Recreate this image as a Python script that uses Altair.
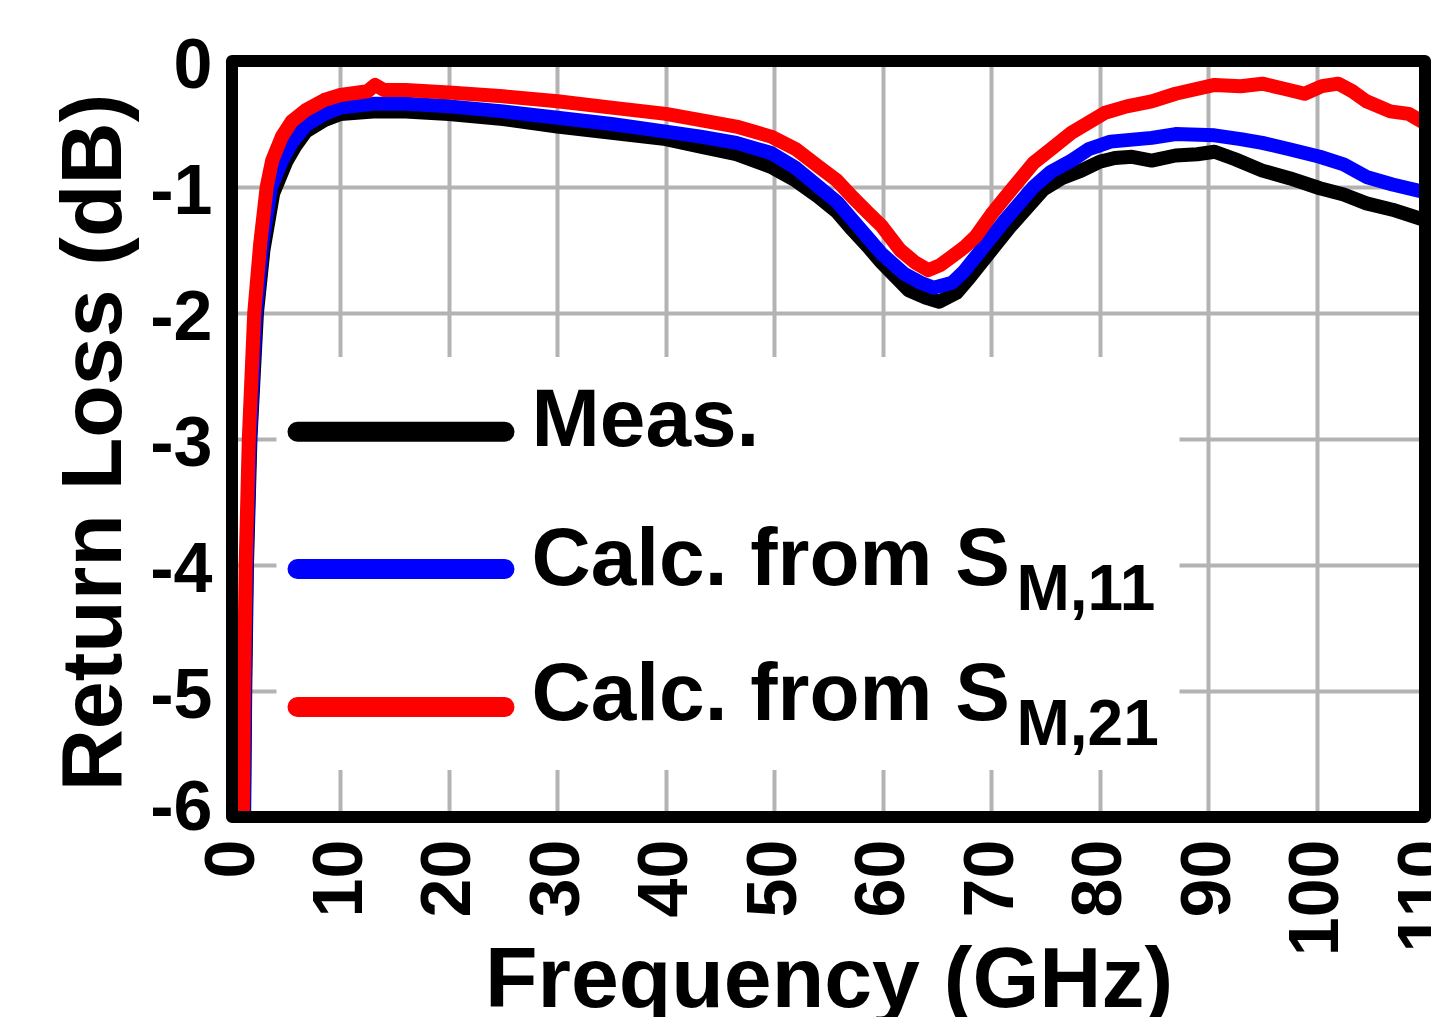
import altair as alt
import pandas as pd

# ---- data ----
meas_f = [1.0, 1.12, 1.22, 1.38, 1.7, 2.3, 2.9, 3.8, 5.0, 5.8, 6.8, 8.5, 10, 13, 16, 20, 25, 30, 35, 40,
          43.2, 46.5, 49.7, 52, 54.1, 55.8, 57.2, 58.6, 59.9, 62.4, 64, 65.2, 66.8, 68, 69.1, 70.5, 71.7,
          74.8, 76.5, 78.3, 80, 81.4, 83, 84.8, 87, 89, 90.6, 92.5, 95, 97.5, 100.3, 102.5, 104.6, 107, 109.9]
meas_db = [-7.0, -6.0, -5.0, -4.0, -3.0, -2.0, -1.5, -1.05, -0.8, -0.68, -0.56, -0.47, -0.42, -0.40, -0.40,
           -0.42, -0.46, -0.52, -0.57, -0.62, -0.68, -0.74, -0.84, -0.95, -1.08, -1.20, -1.34, -1.47, -1.60,
           -1.82, -1.88, -1.91, -1.84, -1.72, -1.60, -1.45, -1.32, -1.02, -0.93, -0.87, -0.80, -0.77, -0.76,
           -0.79, -0.75, -0.74, -0.72, -0.78, -0.87, -0.93, -1.01, -1.06, -1.13, -1.18, -1.26]

s11_f = [1.0, 1.09, 1.18, 1.34, 1.65, 2.2, 2.8, 3.6, 4.6, 5.5, 6.8, 8.5, 10, 13, 16, 20, 25, 30, 35, 40,
         43.2, 46.5, 49.7, 52, 54.1, 55.8, 57.2, 58.6, 59.9, 62, 63.5, 64.7, 66.4, 67.5, 68.6, 70, 71.3,
         73.9, 75.5, 77.4, 79, 81, 84.8, 87, 90.6, 93, 95, 97.5, 100.3, 102.5, 104.6, 107, 109.9]
s11_db = [-7.0, -6.0, -5.0, -4.0, -3.0, -2.0, -1.45, -1.0, -0.79, -0.65, -0.51, -0.42, -0.37, -0.34, -0.34,
          -0.36, -0.40, -0.45, -0.50, -0.56, -0.60, -0.65, -0.73, -0.85, -1.00, -1.12, -1.26, -1.40, -1.53,
          -1.69, -1.76, -1.80, -1.76, -1.67, -1.55, -1.40, -1.26, -1.00, -0.88, -0.79, -0.70, -0.64, -0.61,
          -0.58, -0.59, -0.62, -0.65, -0.70, -0.76, -0.82, -0.92, -0.98, -1.04]

s21_f = [0.9, 1.0, 1.1, 1.26, 1.55, 2.05, 2.6, 3.2, 3.7, 4.6, 5.5, 6.8, 8.5, 10, 12.5, 13.2, 14, 16, 20, 25,
         30, 35, 40, 43.2, 46.5, 49.7, 52, 54.1, 55.8, 57.2, 58.6, 59.9, 61.6, 63, 64.2, 65.3, 66.4, 67.5,
         68.6, 70, 71.3, 73.9, 75.5, 77.4, 80.5, 82.5, 84.8, 87, 90.6, 93, 95, 97, 98.9, 100.5, 102, 103.3,
         104.6, 106.8, 108.5, 109.9]
s21_db = [-7.0, -6.0, -5.0, -4.0, -3.0, -2.0, -1.45, -1.0, -0.79, -0.6, -0.48, -0.39, -0.31, -0.27, -0.24,
          -0.19, -0.23, -0.23, -0.25, -0.28, -0.32, -0.37, -0.42, -0.47, -0.52, -0.60, -0.70, -0.84, -0.95,
          -1.08, -1.20, -1.31, -1.50, -1.60, -1.66, -1.62, -1.55, -1.48, -1.39, -1.22, -1.08, -0.81, -0.70,
          -0.57, -0.41, -0.36, -0.32, -0.26, -0.19, -0.20, -0.18, -0.22, -0.26, -0.20, -0.18, -0.24, -0.32,
          -0.40, -0.42, -0.49]

series_names = ["Meas.", "Calc. from S", "Calc. from S"]
series_subs = ["", "M,11", "M,21"]
series_colors = ["#000000", "#0000ff", "#ff0000"]

x_ticks = list(range(0, 111, 10))
y_ticks = list(range(-6, 1))

FONT = "Liberation Sans"
W, H = 1193, 756

xs = alt.Scale(domain=[0, 110], nice=False, zero=False)
ys = alt.Scale(domain=[-6, 0], nice=False, zero=False)

x_axis = alt.Axis(values=x_ticks, title="Frequency (GHz)", labelAngle=270, labelFontSize=70,
                  labelFont=FONT, labelFontWeight="bold", labelColor="black", labelPadding=22,
                  labelFlush=False, labelOverlap=False,
                  ticks=False, domain=False, grid=True, gridColor="#b3b3b3", gridWidth=4,
                  titleFont=FONT, titleFontSize=86, titleFontWeight="bold", titleColor="black",
                  titleBaseline="alphabetic", titleX=W / 2, titleY=189, titleAlign="center")
y_axis = alt.Axis(values=y_ticks, title="Return Loss (dB)", labelFontSize=70,
                  labelExpr="datum.value == 0 ? '0' : '-' + abs(datum.value)",
                  labelFont=FONT, labelFontWeight="bold", labelColor="black", labelPadding=20,
                  labelFlush=False, labelOverlap=False,
                  labelOffset={"condition": {"test": "datum.value == -6", "value": -9}, "value": 5},
                  ticks=False, domain=False, grid=True, gridColor="#b3b3b3", gridWidth=4,
                  titleFont=FONT, titleFontSize=86, titleFontWeight="bold", titleColor="black",
                  titleAngle=270, titleBaseline="alphabetic", titleX=-112, titleY=H / 2 + 3,
                  titleAlign="center")

dummy = pd.DataFrame({"a": [0]})

# white legend background
legend_bg = alt.Chart(dummy).mark_rect(fill="white").encode(
    x=alt.value(44.5), x2=alt.value(947.5), y=alt.value(296), y2=alt.value(709))

def line_layer(f, db, color, with_axes=False):
    df = pd.DataFrame({"f": f, "db": db})
    if with_axes:
        xe = alt.X("f:Q", scale=xs, axis=x_axis)
        ye = alt.Y("db:Q", scale=ys, axis=y_axis)
    else:
        xe = alt.X("f:Q", scale=xs)
        ye = alt.Y("db:Q", scale=ys)
    return alt.Chart(df).mark_line(color=color, strokeWidth=14, strokeCap="round",
                                   strokeJoin="round", clip=True).encode(x=xe, y=ye)

lines = [
    line_layer(meas_f, meas_db, series_colors[0], with_axes=True),
    line_layer(s11_f, s11_db, series_colors[1]),
    line_layer(s21_f, s21_db, series_colors[2]),
]

legend_y = [370.7, 508, 646]
text_base = [385, 524, 659]
sub_base = [0, 549, 684]
legend_layers = []
for i in range(3):
    d = pd.DataFrame({"name": [series_names[i]], "sub": [series_subs[i]]})
    legend_layers.append(alt.Chart(d).mark_rule(color=series_colors[i], strokeWidth=20,
                                                strokeCap="round").encode(
        x=alt.value(65.5), x2=alt.value(272.5), y=alt.value(legend_y[i])))
    legend_layers.append(alt.Chart(d).mark_text(font=FONT, fontSize=82, fontWeight="bold",
                                                color="black", align="left",
                                                baseline="alphabetic").encode(
        text="name:N", x=alt.value(299.5), y=alt.value(text_base[i])))
    if series_subs[i]:
        legend_layers.append(alt.Chart(d).mark_text(font=FONT, fontSize=64, fontWeight="bold",
                                                    color="black", align="left",
                                                    baseline="alphabetic").encode(
            text="sub:N", x=alt.value(784.5), y=alt.value(sub_base[i])))

border = alt.Chart(dummy).mark_rect(filled=False, stroke="black", strokeWidth=12,
                                    strokeJoin="round").encode(
    x=alt.value(0), x2=alt.value(W), y=alt.value(0), y2=alt.value(H))

chart = alt.layer(*lines, legend_bg, *legend_layers, border).properties(
    width=W, height=H,
    autosize=alt.AutoSizeParams(type="none"),
    padding={"left": 224, "top": 53, "right": 6, "bottom": 200},
).configure_view(stroke=None).configure(background="white")

chart.save("out.html", embed_options={"renderer": "svg", "actions": False})
